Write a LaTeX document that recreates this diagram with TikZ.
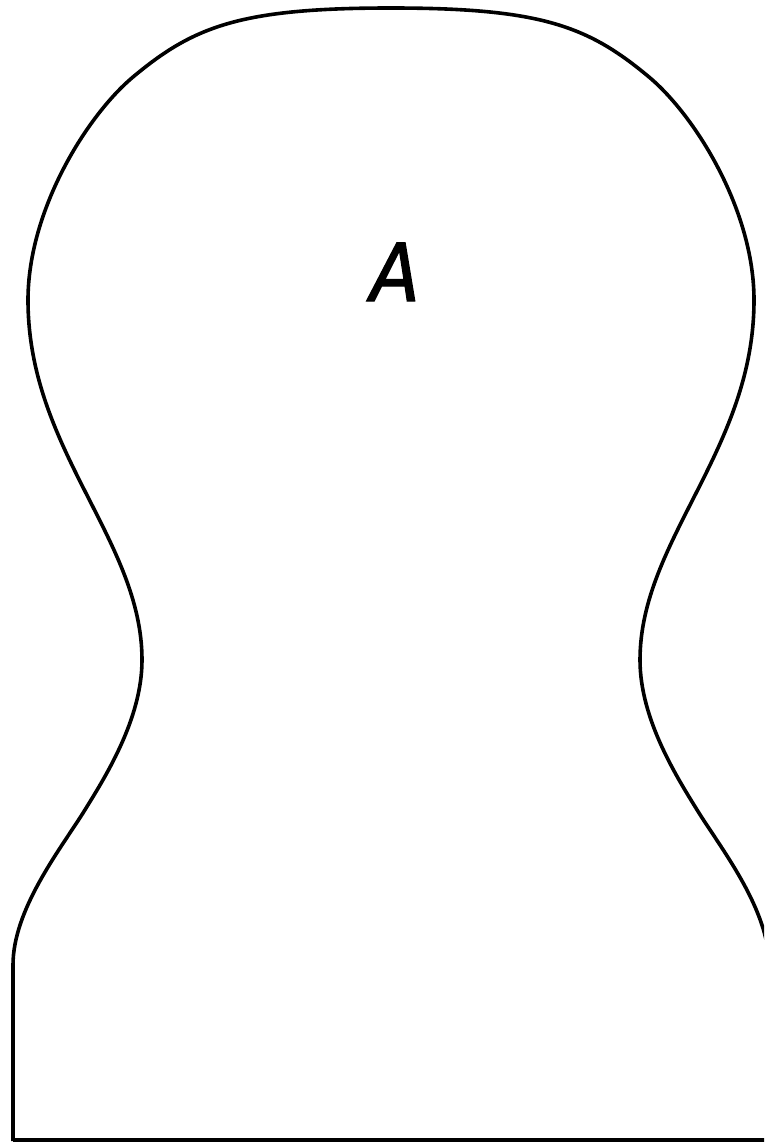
\documentclass[tikz,border=0pt]{standalone}
\usepackage{fontspec}
\newfontfamily\handfont[FakeBold=1.6]{DejaVu Sans Condensed}
\begin{document}
\begin{tikzpicture}[x=1pt,y=-1pt,
  outline/.style={draw=black,line width=3.6pt,line join=round},
  bottomline/.style={draw=black,line width=3.2pt},
  label/.style={font=\handfont\itshape\fontsize{80}{82}\selectfont,inner sep=0pt,anchor=base}]
\useasboundingbox (0,0) rectangle (764,1143);
\clip (0,0) rectangle (764,1143);
\draw[outline] (13,1141) -- (13,965)
  .. controls (13,910) and (59,851) .. (83,813)
  .. controls (104,779) and (142,720) .. (142,660)
  .. controls (142,540) and (28,450) .. (28,300)
  .. controls (28,210) and (87,115.5) .. (133,77)
  .. controls (194,26) and (241,8) .. (391,8)
  .. controls (541,8) and (588,26) .. (649,77)
  .. controls (695,115.5) and (754,210) .. (754,300)
  .. controls (754,450) and (640,540) .. (640,660)
  .. controls (640,720) and (678,779) .. (699,813)
  .. controls (723,851) and (769,910) .. (769,965)
  -- (769,1141);
\draw[bottomline] (13,1140) coordinate (bl) -- (770,1140) coordinate (br);
\node[label] (A) at (395,301) {A};
\end{tikzpicture}
\end{document}
